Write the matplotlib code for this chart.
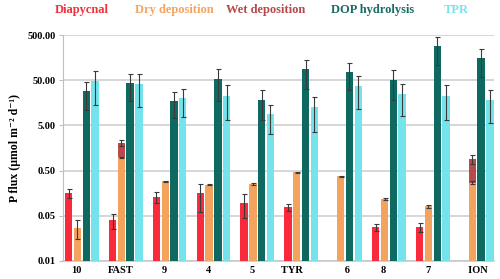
import numpy as np
import matplotlib
matplotlib.use("Agg")
import matplotlib.pyplot as plt

nan = np.nan
categories = ["10", "FAST", "9", "4", "5", "TYR   ", "      6", "8", "7", "     ION"]
diapycnal = [0.16, 0.039, 0.13, 0.156, 0.097, 0.076, nan, 0.0275, 0.028, nan]
diapycnal_err = [0.035, 0.014, 0.037, 0.097, 0.052, 0.014, nan, 0.0045, 0.0068, nan]
dry = [0.027, 0.98, 0.29, 0.243, 0.25, 0.457, 0.377, 0.117, 0.08, 0.269]
dry_err = [0.012, 0.04, 0.005, 0.01, 0.01, 0.012, 0.01, 0.007, 0.006, 0.02]
wet = [nan, 2.07, nan, nan, nan, nan, nan, nan, nan, 0.9]
wet_err = [nan, 0.3, nan, nan, nan, nan, nan, nan, nan, 0.2]
dop = [29, 43, 17.2, 53.7, 18.4, 88, 75.5, 51, 285, 157]
dop_err = [18, 26, 10, 36, 11.7, 56, 45, 33, 175, 97]
tpr = [48, 41, 20.3, 22.5, 8.8, 12.6, 37.5, 24.5, 22.5, 18.4]
tpr_err = [34, 28, 12.5, 16, 5.6, 9, 26, 16.5, 16, 12.7]

ytick_vals = [0.005, 0.05, 0.5, 5, 50, 500]
ytick_labels = ["0.01", "0.05", "0.50", "5.00", "50.00", "500.00"]

series_names = ["Diapycnal", "Dry deposition", "Wet deposition", "DOP hydrolysis", "TPR"]
colors = ["#F92A3B", "#F4A35F", "#B84A4B", "#0F6961", "#74E3EC"]
text_colors = ["#F0323E", "#F4A460", "#B5494B", "#1A6B64", "#74E4EE"]

serif = ["Liberation Serif", "DejaVu Serif"]

fig = plt.figure(figsize=(5.0, 2.79), dpi=100)
ax = fig.add_axes([0.126, 0.0656, 0.862, 0.808])

x = np.arange(len(categories))
w = 0.168
ekw = dict(fmt="none", ecolor="#3a3a3a", elinewidth=0.8, capsize=1.8, capthick=0.8, zorder=5)

ax.bar(x + 0.3, wet, width=w, color=colors[2], zorder=2)
ax.errorbar(x + 0.3, wet, yerr=wet_err, **ekw)
ax.bar(x + 0.1, diapycnal, width=w, color=colors[0], zorder=3)
ax.errorbar(x + 0.1, diapycnal, yerr=diapycnal_err, **ekw)
ax.bar(x + 0.3, dry, width=w, color=colors[1], zorder=3)
ax.errorbar(x + 0.3, dry, yerr=dry_err, **ekw)
ax.bar(x + 0.5, dop, width=w, color=colors[3], zorder=3)
ax.errorbar(x + 0.5, dop, yerr=dop_err, **ekw)
ax.bar(x + 0.7, tpr, width=w, color=colors[4], zorder=3)
ax.errorbar(x + 0.7, tpr, yerr=tpr_err, **ekw)

ax.set_yscale("log")
ax.set_ylim(0.005, 500)
ax.set_xlim(-0.03, 9.795)
ax.set_yticks(ytick_vals)
ax.set_yticklabels(ytick_labels, fontfamily=serif, fontweight="bold", fontsize=7.5)
ax.yaxis.set_minor_locator(matplotlib.ticker.NullLocator())
ax.set_xticks(x + 0.28)
ax.set_xticklabels(categories, fontfamily=serif, fontweight="bold", fontsize=7.5)
ax.tick_params(axis="x", length=0, pad=4)
ax.tick_params(axis="y", length=3, color="#BFBFBF", pad=2)

ax.grid(axis="y", color="#D0D0D0", linewidth=1.2, zorder=0)
ax.set_axisbelow(True)
for s in ["top", "right"]:
    ax.spines[s].set_visible(False)
ax.spines["left"].set_color("#BFBFBF")
ax.spines["bottom"].set_color("#C8C8C8")
ax.spines["bottom"].set_linewidth(1.2)

ax.set_ylabel("P flux (µmol m⁻² d⁻¹)", fontfamily=serif, fontweight="bold", fontsize=8.5, labelpad=5)

legend_x = [82, 174, 265.5, 373, 456]
for name, c, lx in zip(series_names, text_colors, legend_x):
    fig.text(lx / 500, 1 - 10 / 279, name, color=c, ha="center", va="center",
             fontfamily=serif, fontweight="bold", fontsize=9)

fig.savefig("out.png", dpi=100)
